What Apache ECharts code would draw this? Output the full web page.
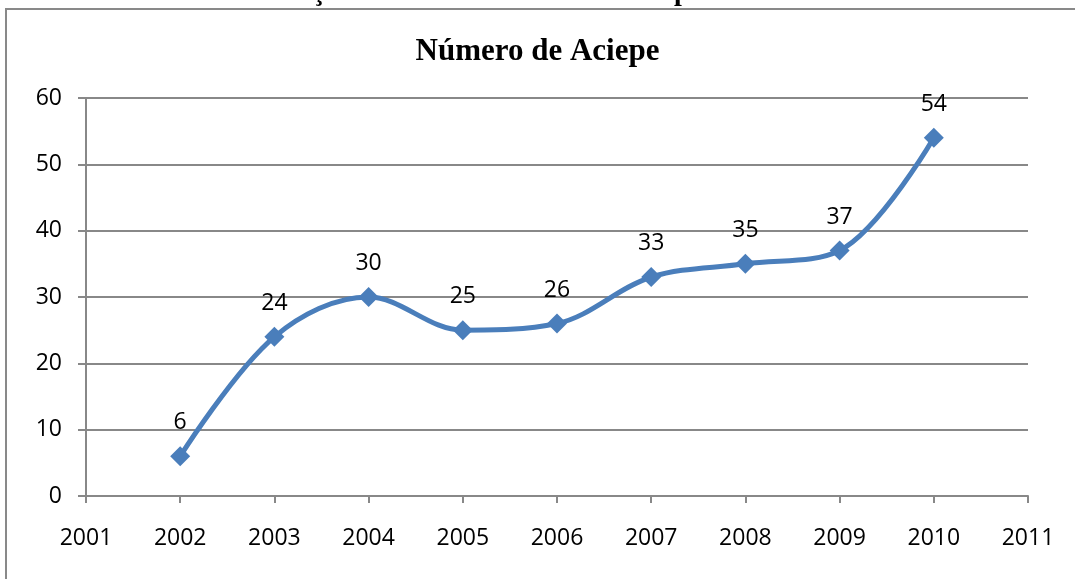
<!DOCTYPE html>
<html><head><meta charset="utf-8">
<script src="https://cdn.jsdelivr.net/npm/echarts@6/dist/echarts.min.js"></script>
<style>html,body{margin:0;padding:0;background:#fff}#c{width:1075px;height:579px}</style>
</head><body><div id="c"></div>
<script>
const years = [2002, 2003, 2004, 2005, 2006, 2007, 2008, 2009, 2010];
const values = [6, 24, 30, 25, 26, 33, 35, 37, 54];
const yTicks = [0, 10, 20, 30, 40, 50, 60];
const xRange = [2001, 2011];
const chartTitle = 'Número de Aciepe';
const topTitle = 'Evolução de ACIEPEs ofertadas no período de 2002 a 2010';

const chart = echarts.init(document.getElementById('c'));
const lbl = {fontFamily: 'Open Sans, DejaVu Sans, sans-serif', fontSize: 23, color: '#000'};
chart.setOption({
  animation: false,
  backgroundColor: '#fff',
  graphic: [
    {type: 'rect', shape: {x: 6, y: 9, width: 1100, height: 600}, style: {fill: 'none', stroke: '#898989', lineWidth: 2}},
    {type: 'text', x: 595, y: -21, style: {text: topTitle, textAlign: 'center', fontFamily: 'Liberation Serif, serif', fontWeight: 'bold', fontSize: 28, fill: '#000'}, z: -1}
  ],
  title: {text: chartTitle, left: 'center', top: 31, textStyle: {fontFamily: 'Liberation Serif, Times New Roman, serif', fontWeight: 'bold', fontSize: 31, color: '#000'}},
  grid: {left: 86, right: 47, top: 98, bottom: 83},
  xAxis: {
    type: 'value', min: xRange[0], max: xRange[1], interval: 1,
    axisLine: {lineStyle: {color: '#888', width: 2}},
    axisTick: {show: true, inside: false, length: 7, lineStyle: {color: '#888', width: 2}},
    axisLabel: Object.assign({margin: 31, formatter: v => String(v)}, lbl),
    splitLine: {show: false}
  },
  yAxis: {
    type: 'value', min: yTicks[0], max: yTicks[yTicks.length - 1], interval: 10,
    axisLine: {show: true, lineStyle: {color: '#888', width: 2}},
    axisTick: {show: true, length: 8, lineStyle: {color: '#888', width: 2}},
    axisLabel: Object.assign({margin: 24}, lbl),
    splitLine: {lineStyle: {color: '#888', width: 2}}
  },
  series: [{
    type: 'line',
    data: years.map((y, i) => [y, values[i]]),
    smooth: 0.35,
    symbol: 'diamond', symbolSize: 20,
    lineStyle: {color: '#4a7ebb', width: 5},
    itemStyle: {color: '#4a7ebb'},
    label: Object.assign({show: true, position: 'top', distance: 12}, lbl)
  }]
});
</script></body></html>
